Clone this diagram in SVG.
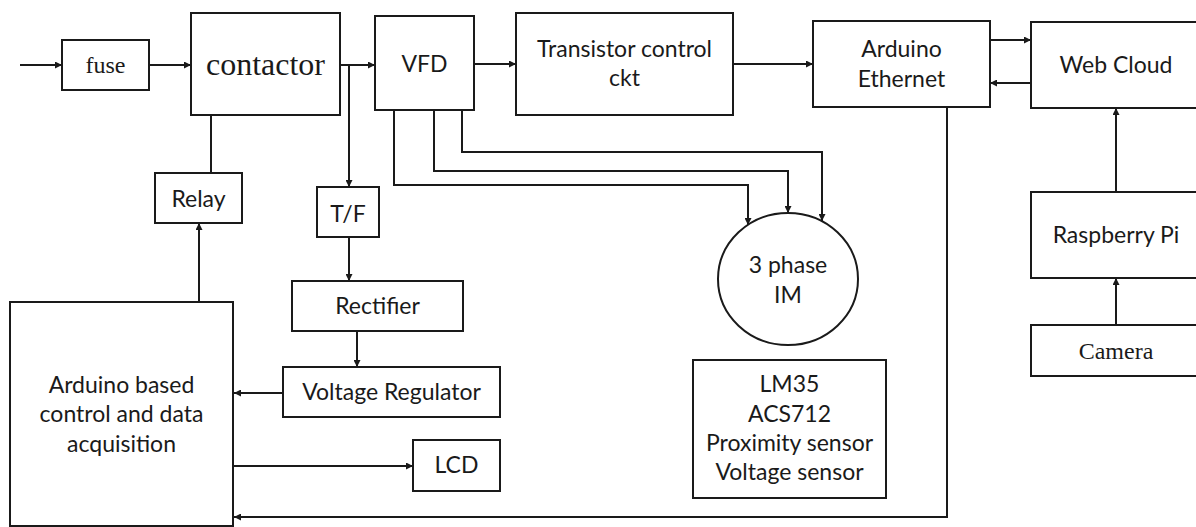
<svg xmlns="http://www.w3.org/2000/svg" width="1196" height="527" viewBox="0 0 1196 527">
<style>
.b{fill:#fff;stroke:#1a1a1a;stroke-width:2}
.c{fill:none;stroke:#1a1a1a;stroke-width:2}
.t{font-family:Lato,"Open Sans","DejaVu Sans",sans-serif;font-size:23px;fill:#1a1a1a;text-anchor:middle}
.s{font-family:"Liberation Serif","Times New Roman",serif;fill:#1a1a1a;text-anchor:middle}
</style>
<defs>
<marker id="ah" viewBox="0 0 10 10" refX="10" refY="5" markerWidth="9" markerHeight="7" markerUnits="userSpaceOnUse" orient="auto">
<path d="M0,0 L10,5 L0,10 z" fill="#1a1a1a"/>
</marker>
</defs>
<rect width="1196" height="527" fill="#fff"/>
<g id="connectors">
<line class="c" x1="20" y1="65" x2="62" y2="65" marker-end="url(#ah)"/>
<line class="c" x1="149" y1="65" x2="191" y2="65" marker-end="url(#ah)"/>
<line class="c" x1="340" y1="65" x2="375" y2="65" marker-end="url(#ah)"/>
<line class="c" x1="349" y1="65" x2="349" y2="187" marker-end="url(#ah)"/>
<line class="c" x1="211" y1="115" x2="211" y2="173"/>
<line class="c" x1="474" y1="64" x2="516" y2="64" marker-end="url(#ah)"/>
<line class="c" x1="733" y1="64" x2="813" y2="64" marker-end="url(#ah)"/>
<line class="c" x1="990" y1="40" x2="1031" y2="40" marker-end="url(#ah)"/>
<line class="c" x1="1031" y1="83" x2="990" y2="83" marker-end="url(#ah)"/>
<polyline class="c" points="462,110 462,152 822,152 822,221" marker-end="url(#ah)"/>
<polyline class="c" points="434,110 434,171 788,171 788,213" marker-end="url(#ah)"/>
<polyline class="c" points="394,110 394,185 748,185 748,225" marker-end="url(#ah)"/>
<line class="c" x1="349" y1="237" x2="349" y2="281" marker-end="url(#ah)"/>
<line class="c" x1="357" y1="331" x2="357" y2="367" marker-end="url(#ah)"/>
<line class="c" x1="283" y1="393" x2="234" y2="393" marker-end="url(#ah)"/>
<line class="c" x1="199" y1="302" x2="199" y2="223" marker-end="url(#ah)"/>
<line class="c" x1="233" y1="466" x2="413" y2="466" marker-end="url(#ah)"/>
<polyline class="c" points="947,107 947,517 234,517" marker-end="url(#ah)"/>
<line class="c" x1="1116" y1="192" x2="1116" y2="108" marker-end="url(#ah)"/>
<line class="c" x1="1116" y1="325" x2="1116" y2="278" marker-end="url(#ah)"/>
</g>
<g id="fuse"><rect class="b" x="62" y="40" width="87" height="50"/><text class="s" x="105.5" y="73" font-size="24">fuse</text></g>
<g id="contactor"><rect class="b" x="191" y="13" width="149" height="102"/><text class="s" x="265.5" y="75" font-size="32">contactor</text></g>
<g id="vfd"><rect class="b" x="375" y="16" width="99" height="94"/><text class="t" x="424.5" y="72">VFD</text></g>
<g id="transistor"><rect class="b" x="516" y="13" width="217" height="102"/><text class="t" x="624.5" y="57">Transistor control</text><text class="t" x="624.5" y="86">ckt</text></g>
<g id="arduino-ethernet"><rect class="b" x="813" y="21" width="177" height="86"/><text class="t" x="901.5" y="57">Arduino</text><text class="t" x="901.5" y="87">Ethernet</text></g>
<g id="web-cloud"><rect class="b" x="1031" y="22" width="170" height="86"/><text class="t" x="1116" y="73">Web Cloud</text></g>
<g id="relay"><rect class="b" x="155" y="173" width="87" height="50"/><text class="t" x="198.5" y="207">Relay</text></g>
<g id="tf"><rect class="b" x="317" y="187" width="62" height="50"/><text class="t" x="348" y="222">T/F</text></g>
<g id="motor"><ellipse class="b" cx="788" cy="279" rx="70" ry="66"/><text class="t" x="788" y="273">3 phase</text><text class="t" x="788" y="303">IM</text></g>
<g id="raspberry-pi"><rect class="b" x="1031" y="192" width="170" height="86"/><text class="t" x="1116" y="243">Raspberry Pi</text></g>
<g id="camera"><rect class="b" x="1031" y="325" width="170" height="51"/><text class="s" x="1116" y="359" font-size="24">Camera</text></g>
<g id="rectifier"><rect class="b" x="292" y="281" width="171" height="50"/><text class="t" x="377.5" y="314">Rectifier</text></g>
<g id="voltage-regulator"><rect class="b" x="283" y="367" width="217" height="50"/><text class="t" x="391.5" y="400">Voltage Regulator</text></g>
<g id="arduino-control"><rect class="b" x="10" y="302" width="223" height="224"/><text class="t" x="121.5" y="393">Arduino based</text><text class="t" x="121.5" y="422">control and data</text><text class="t" x="121.5" y="452">acquisition</text></g>
<g id="lcd"><rect class="b" x="413" y="440" width="87" height="51"/><text class="t" x="456.5" y="473">LCD</text></g>
<g id="sensors"><rect class="b" x="693" y="360" width="193" height="138"/><text class="t" x="789.5" y="392">LM35</text><text class="t" x="789.5" y="422">ACS712</text><text class="t" x="789.5" y="451">Proximity sensor</text><text class="t" x="789.5" y="480">Voltage sensor</text></g>
</svg>
